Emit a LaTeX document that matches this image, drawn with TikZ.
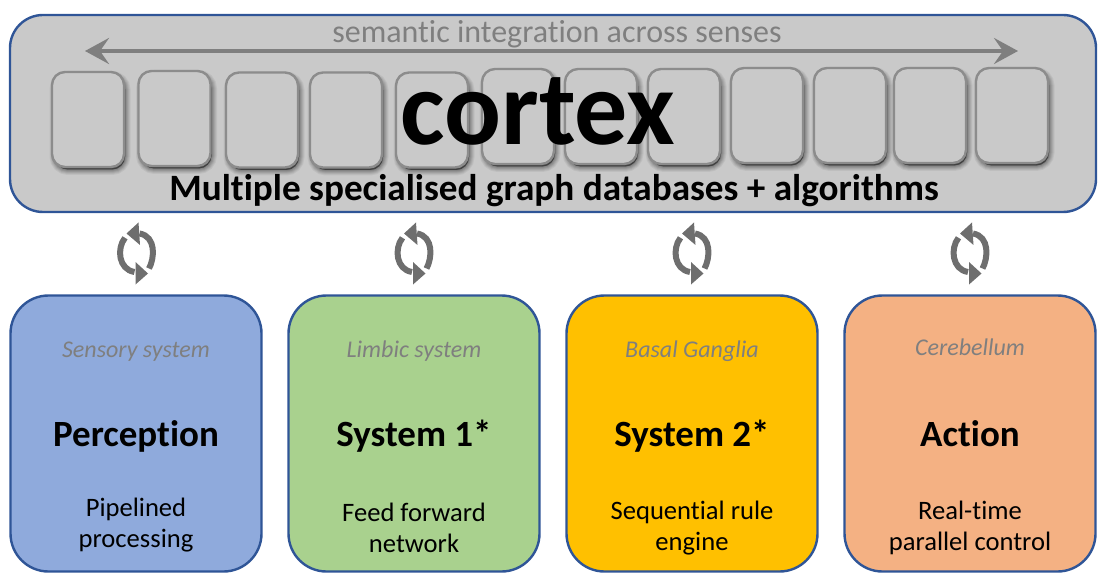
\documentclass[tikz,border=0pt]{standalone}
\usepackage{fontspec}
\setmainfont[Ligatures=NoCommon]{Carlito}
\usetikzlibrary{arrows.meta}
\definecolor{edgeblue}{HTML}{2F5597}
\definecolor{panelgrey}{HTML}{C9C9C9}
\definecolor{softgrey}{HTML}{7F7F7F}
\definecolor{iconGrey}{HTML}{6E6E6E}
\definecolor{cellgrey}{HTML}{8C8C8C}
\definecolor{percfill}{HTML}{8FAADC}
\definecolor{sysonefill}{HTML}{A9D18E}
\definecolor{systwofill}{HTML}{FFC000}
\definecolor{actfill}{HTML}{F4B183}
\tikzset{
  x=1pt,y=-1pt,
  panel/.style={draw=edgeblue,line width=2.4pt,rounded corners=33pt,fill=panelgrey,inner sep=0pt,
     minimum width=1086pt,minimum height=197pt},
  bigbox/.style={draw=edgeblue,line width=2.4pt,rounded corners=38pt,inner sep=0pt,
     minimum width=251pt,minimum height=276pt},
  cell/.style={draw=cellgrey,line width=2.4pt,rounded corners=13pt,fill=panelgrey,inner sep=0pt,
     minimum width=72pt,minimum height=95pt},
  region/.style={font=\fontsize{24}{28}\selectfont\itshape,text=softgrey,inner sep=0pt,anchor=base},
  title/.style={font=\fontsize{37}{42}\selectfont\bfseries,text=black,inner sep=0pt,anchor=base},
  desc/.style={font=\fontsize{26.6}{31}\selectfont,text=black,align=center,inner sep=0pt},
  cycle/.pic={
    \draw[iconGrey,line width=6pt] (12.5,15) .. controls (18,5) and (20,-17) .. (3,-20);
    \fill[iconGrey] (-10,-20) -- (2,-31) -- (3.5,-8.5) -- cycle;
    \draw[iconGrey,line width=6pt] (-11.5,-15.7) .. controls (-20,-5) and (-18,16) .. (-2,18.5);
    \fill[iconGrey] (11.5,20) -- (-1,8.5) -- (-1,31) -- cycle;
  },
}
\begin{document}
\begin{tikzpicture}
\useasboundingbox (0,0) rectangle (1102,577);
\node[panel] (cortexpanel) at (553,113.5) {};
\coordinate (arrowL) at (85,51);
\coordinate (arrowR) at (1018,51);
\draw[softgrey,line width=3.6pt,{Stealth[length=24pt,width=26pt,inset=9pt]}-{Stealth[length=24pt,width=26pt,inset=9pt]}] (arrowL) -- (arrowR);
\node[inner sep=0pt,anchor=base,font=\fontsize{32}{36}\selectfont,text=softgrey] (integration) at (557,43) {semantic integration across senses};
\foreach \n/\cx/\cy in {a/88/119.5,b/174.5/118.5,c/262/120,d/346/120,e/432/120,f/518/116.5,g/601/116.5,h/684/116.5,i/767/115.5,j/850/115.5,k/930/115.5,l/1012/115.5}{
  \foreach \g/\o in {11/0.05,9/0.06,7/0.07,5/0.09,3/0.09,1/0.10}{
    \draw[line width=\g pt,draw=black,draw opacity=\o,fill=black,fill opacity=0.1,rounded corners=13pt]
      (\cx-33,\cy-43) rectangle (\cx+37,\cy+50);
  }
  \node[cell] (cell\n) at (\cx,\cy) {};
}
\node[inner sep=0pt,anchor=base,font=\fontsize{106}{110}\selectfont\bfseries,text=black] (cortex) at (538,145) {cortex};
\node[inner sep=0pt,anchor=base,font=\fontsize{37.2}{42}\selectfont\bfseries,text=black] (multi) at (554,201) {Multiple specialised graph databases + algorithms};
\pic at (136.5,253.5) {cycle};
\pic at (414,253.5) {cycle};
\pic at (692,253.5) {cycle};
\pic at (970,253.5) {cycle};
\node[bigbox,fill=percfill] (perc) at (136,433.5) {};
\node[bigbox,fill=sysonefill] (sysone) at (414,433.5) {};
\node[bigbox,fill=systwofill] (systwo) at (692,433.5) {};
\node[bigbox,fill=actfill] (act) at (970,433.5) {};
\node[region] (r1) at (136,357) {Sensory system};
\node[region] (r2) at (414,357) {Limbic system};
\node[region] (r3) at (692,357) {Basal Ganglia};
\node[region] (r4) at (970,355) {Cerebellum};
\node[title] (t1) at (136,446) {Perception};
\node[title] (t2) at (414,446) {System 1*};
\node[title] (t3) at (692,446) {System 2*};
\node[title] (t4) at (970,446) {Action};
\node[desc] (d1) at (136,525.5) {Pipelined\\processing};
\node[desc] (d2) at (414,528) {Feed forward\\network};
\node[desc] (d3) at (692,528) {Sequential rule\\engine};
\node[desc] (d4) at (970,528) {Real-time\\parallel control};
\end{tikzpicture}
\end{document}
